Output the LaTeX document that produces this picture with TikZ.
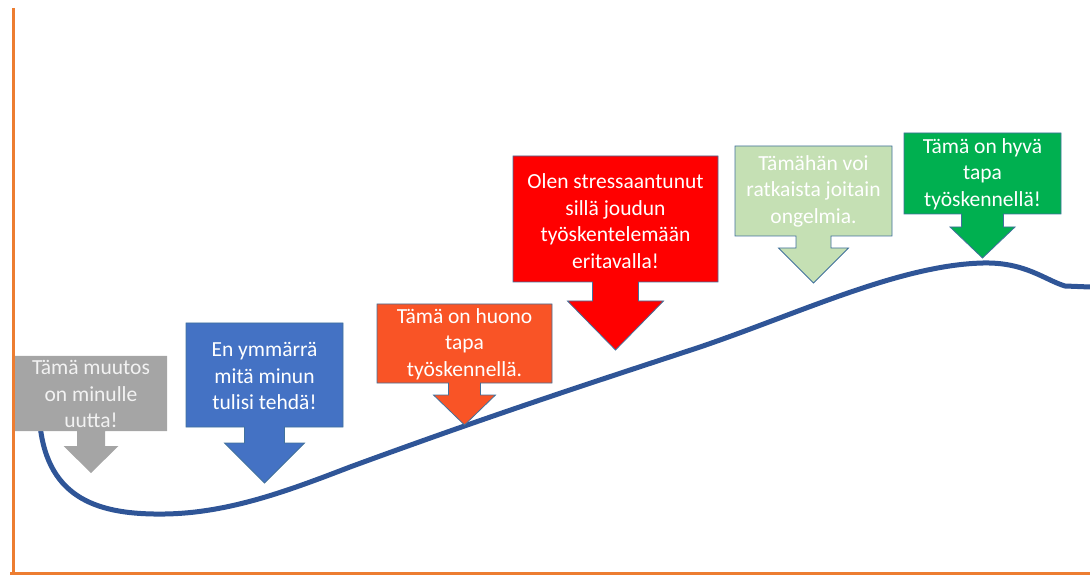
\documentclass[tikz,border=0pt]{standalone}
\usepackage{fontspec}
\setmainfont{Carlito}
\definecolor{axisorange}{HTML}{ED7D31}
\definecolor{curveblue}{HTML}{2F5597}
\definecolor{edgeblue}{HTML}{41719C}
\definecolor{cgray}{HTML}{A5A5A5}
\definecolor{cblue}{HTML}{4472C4}
\definecolor{corange}{HTML}{F95426}
\definecolor{cred}{HTML}{FF0000}
\definecolor{clightgreen}{HTML}{C5E0B4}
\definecolor{cgreen}{HTML}{00B050}
\tikzset{
  axisline/.style={draw=axisorange, line width=3pt},
  curveline/.style={draw=curveblue, line width=5pt, line cap=round},
  calloutshape/.style={draw=edgeblue, line width=0.8pt, line join=miter},
  callouttext/.style={text=white, align=center, inner sep=0pt,
    font=\fontsize{21.5}{26.5}\selectfont}
}
\begin{document}
\begin{tikzpicture}[x=1pt,y=-1pt]
\useasboundingbox (0,0) rectangle (1090,577);

% axes
\coordinate (ytop) at (13,8);
\coordinate (origin) at (13,573);
\coordinate (xend) at (1090,573);
\draw[axisline] (ytop) -- (13,574.5);
\draw[axisline] (10,573) -- (xend);

% change curve
\coordinate (c0) at (40,425);
\coordinate (c1) at (165,514);
\coordinate (c2) at (350,467);
\coordinate (c3) at (700,347);
\coordinate (c4) at (983,263);
\coordinate (c5) at (1065,286);
\coordinate (c6) at (1090,287);
\draw[curveline, line cap=butt] (c0) .. controls (48,500) and (100,515) .. (c1)
  .. controls (230,513) and (290,490) .. (c2)
  .. controls (500,412) and (600,380) .. (c3)
  .. controls (800,313) and (900,265) .. (c4)
  .. controls (1025,262) and (1045,280) .. (c5) -- (c6);

% callout 1 (gray)
\fill[cgray] (15,356) -- (167,356) -- (167,431) -- (105,431) -- (105,446)
  -- (118.5,446) -- (91,473) -- (63.5,446) -- (77,446) -- (77,431)
  -- (15,431) -- cycle;
\node[callouttext, text=white!95!black] (n1) at (91,394)
  {Tämä muutos\\on minulle\\uutta!};

% callout 2 (blue)
\filldraw[calloutshape, fill=cblue] (186,323) -- (343,323) -- (343,427)
  -- (284.5,427) -- (284.5,443) -- (304.5,443) -- (264.5,483) -- (224.5,443)
  -- (244.5,443) -- (244.5,427) -- (186,427) -- cycle;
\node[callouttext] (n2) at (264.5,376) {En ymmärrä\\mitä minun\\tulisi tehdä!};

% callout 3 (orange)
\filldraw[calloutshape, fill=corange] (377,304) -- (552,304) -- (552,383)
  -- (480.5,383) -- (480.5,395) -- (495.5,395) -- (464.5,425) -- (433.5,395)
  -- (448.5,395) -- (448.5,383) -- (377,383) -- cycle;
\node[callouttext] (n3) at (464.5,344) {Tämä on huono\\tapa\\työskennellä.};

% callout 4 (red)
\filldraw[calloutshape, fill=cred] (513,156) -- (718,156) -- (718,282)
  -- (638.5,282) -- (638.5,301) -- (663.5,301) -- (615.5,350) -- (567.5,301)
  -- (592.5,301) -- (592.5,282) -- (513,282) -- cycle;
\node[callouttext] (n4) at (615.5,221)
  {Olen stressaantunut\\sillä joudun\\työskentelemään\\eritavalla!};

% callout 5 (light green)
\filldraw[calloutshape, fill=clightgreen] (735,146) -- (892,146) -- (892,236)
  -- (831,236) -- (831,248) -- (848.5,248) -- (813.5,283) -- (778.5,248)
  -- (796,248) -- (796,236) -- (735,236) -- cycle;
\node[callouttext] (n5) at (813.5,191) {Tämähän voi\\ratkaista joitain\\ongelmia.};

% callout 6 (green)
\filldraw[calloutshape, fill=cgreen] (904,133) -- (1061,133) -- (1061,214)
  -- (1003.5,214) -- (1003.5,227) -- (1015,227) -- (982.5,258) -- (950,227)
  -- (961.5,227) -- (961.5,214) -- (904,214) -- cycle;
\node[callouttext] (n6) at (982.5,174) {Tämä on hyvä\\tapa\\työskennellä!};
\end{tikzpicture}
\end{document}
